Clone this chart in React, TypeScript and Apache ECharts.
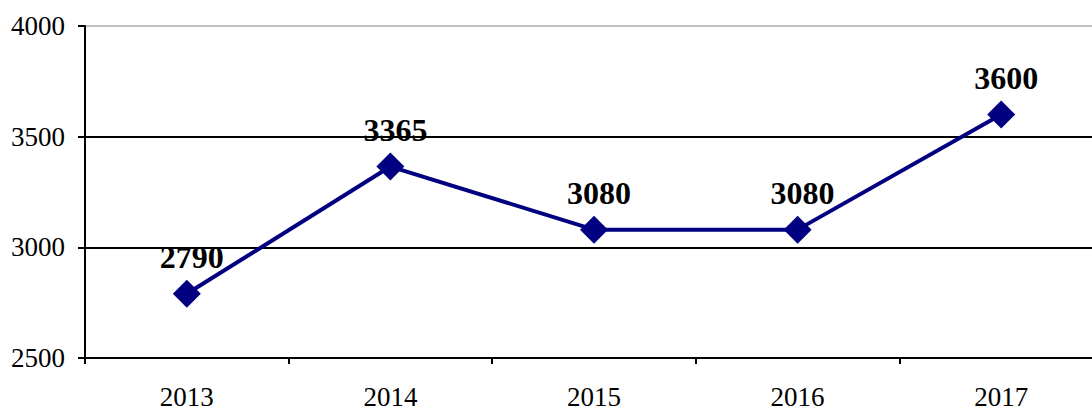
import React, { useEffect, useRef } from "react";
import * as echarts from "echarts";

const categories = ["2013", "2014", "2015", "2016", "2017"];
const values = [2790, 3365, 3080, 3080, 3600];
const yMin = 2500;
const yMax = 4000;
const yInterval = 500;

const FONT = "'Liberation Serif', 'Times New Roman', serif";

export default function App() {
  const ref = useRef<HTMLDivElement>(null);
  useEffect(() => {
    if (!ref.current) return;
    const chart = echarts.init(ref.current, null, { renderer: "svg" });
    chart.setOption({
      animation: false,
      backgroundColor: "#ffffff",
      grid: { left: 85, top: 26, right: 0, bottom: 50 },
      xAxis: {
        type: "category",
        data: categories,
        boundaryGap: true,
        axisLine: { lineStyle: { color: "#000", width: 2 } },
        axisTick: { show: true, length: 6, lineStyle: { color: "#000", width: 2 } },
        axisLabel: {
          color: "#000",
          fontFamily: FONT,
          fontSize: 27,
          margin: 25,
        },
      },
      yAxis: {
        type: "value",
        min: yMin,
        max: yMax,
        interval: yInterval,
        axisLine: { show: true, lineStyle: { color: "#000", width: 2 } },
        axisTick: { show: true, length: 7, lineStyle: { color: "#000", width: 2 } },
        axisLabel: {
          color: "#000",
          fontFamily: FONT,
          fontSize: 27,
          margin: 20,
          formatter: (v: number) => String(v),
        },
        splitLine: {
          show: true,
          lineStyle: { color: ["#000", "#000", "#000", "#c0c0c0"], width: 2 },
        },
      },
      series: [
        {
          type: "line",
          data: values,
          symbol: "diamond",
          symbolSize: 28,
          lineStyle: { color: "#000080", width: 4 },
          itemStyle: { color: "#000080" },
          label: {
            show: true,
            position: "top",
            distance: 7,
            offset: [5, 0],
            color: "#000",
            fontWeight: "bold",
            fontFamily: FONT,
            fontSize: 32,
          },
        },
      ],
    });
    return () => chart.dispose();
  }, []);
  return (
    <div style={{ position: "absolute", left: 0, top: 0, width: 1092, height: 410, overflow: "hidden" }}>
      <div ref={ref} style={{ width: 1103, height: 410 }} />
    </div>
  );
}
